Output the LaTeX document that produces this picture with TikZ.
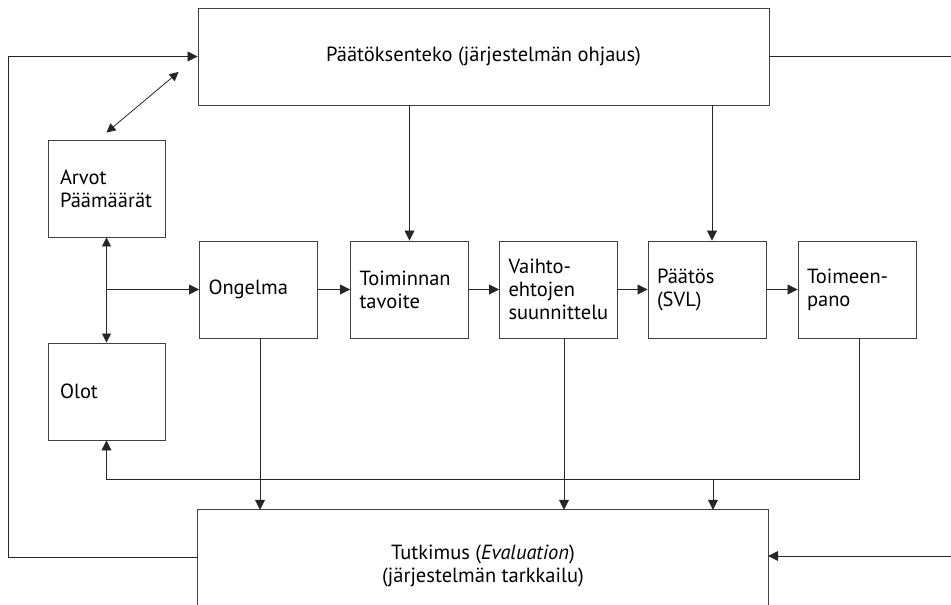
\documentclass[tikz,border=0pt]{standalone}
\usepackage{fontspec}
\setmainfont{PT Sans}
\usetikzlibrary{arrows.meta}
\begin{document}
\begin{tikzpicture}[x=1pt,y=-1pt,
  boxline/.style={draw=black!75, line width=0.9pt},
  txt/.style={font=\fontsize{20.5}{23}\selectfont},
  smallbox/.style={boxline, txt, minimum height=97pt, inner xsep=9pt, inner ysep=0pt, text width=100pt, align=left},
  sidebox/.style={smallbox, inner xsep=12pt, text width=93pt},
  bigbox/.style={txt, minimum width=571pt, minimum height=97pt, align=center},
  conn/.style={draw=black!85, line width=0.8pt},
  arr/.style={conn, -{Triangle[length=10pt,width=10pt]}},
  darr/.style={conn, {Triangle[length=9pt,width=9pt]}-{Triangle[length=9pt,width=9pt]}}
]
\useasboundingbox (0,0) rectangle (951,605);
\clip (0,0) rectangle (951,605);

\node[bigbox, boxline] (top) at (483.5,56.5) {Päätöksenteko (järjestelmän ohjaus)};
\node[bigbox, minimum height=112pt, minimum width=570pt] (tut) at (483,566) {Tutkimus (\textit{Evaluation})\\(järjestelmän tarkkailu)};
\draw[boxline] (tut.south west) -- (tut.north west) -- (tut.north east) -- (tut.south east);

\node[sidebox] (arvot) at (106.5,188.5) {Arvot\\Päämäärät};
\node[sidebox] (olot) at (106.5,391.5) {Olot};

\node[smallbox] (ong) at (258.5,289.5) {Ongelma};
\node[smallbox] (toim) at (409.5,289.5) {Toiminnan\\tavoite};
\node[smallbox] (vaih) at (558.5,289.5) {Vaihto-\\ehtojen\\suunnittelu};
\node[smallbox] (paat) at (707,289.5) {Päätös\\(SVL)};
\node[smallbox] (toimeen) at (857,289.5) {Toimeen-\\pano};

\coordinate (L1) at (8.5,557);
\coordinate (R1) at (951,56.5);
\coordinate (R2) at (951,556);
\coordinate (B1) at (859,479);
\coordinate (B2) at (713,479);

% outer loops
\draw[arr] (tut.west |- L1) -- (L1) |- (top.west);
\draw[conn] (top.east) -- (R1);
\draw[arr] (R2) -- (R2 -| tut.east);

% values <-> decision making
\draw[darr] ([yshift=7pt]arvot.north) -- ([xshift=-19pt,yshift=-15.5pt]top.west);
\draw[darr] (arvot.south) -- (olot.north);
\draw[arr] (arvot.south |- ong.west) -- (ong.west);

% main chain
\draw[arr] (ong) -- (toim);
\draw[arr] (toim) -- (vaih);
\draw[arr] (vaih) -- (paat);
\draw[arr] (paat) -- (toimeen);

% from decision making down
\draw[arr] (top.south -| toim.north) -- (toim.north);
\draw[arr] ([xshift=5pt]top.south -| paat.north) -- ([xshift=5pt]paat.north);

% down to research
\draw[arr] ([xshift=1.5pt]ong.south) -- ([xshift=1.5pt]ong.south |- tut.north);
\draw[arr] ([xshift=5.5pt]vaih.south) -- ([xshift=5.5pt]vaih.south |- tut.north);
\draw[arr] (B1 |- toimeen.south) -- (B1) -- (olot.south |- B1) -- (olot.south);
\draw[arr] (B2) -- (B2 |- tut.north);
\end{tikzpicture}
\end{document}
